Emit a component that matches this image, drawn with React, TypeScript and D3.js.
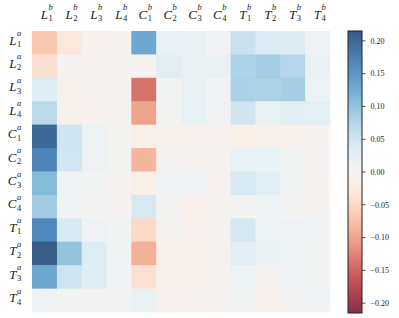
import React from "react";
import * as d3 from "d3";

const letters = ["L", "L", "L", "L", "C", "C", "C", "C", "T", "T", "T", "T"];
const indices = ["1", "2", "3", "4", "1", "2", "3", "4", "1", "2", "3", "4"];

// rows: a-labels (L1..T4), columns: b-labels (L1..T4)
const rowL1 = [-0.068, -0.03, -0.01, -0.003, 0.13, 0.02, 0.02, 0.01, 0.055, 0.038, 0.037, 0.012];
const rowL2 = [-0.04, 0.0, -0.005, 0.0, 0.0, 0.03, 0.02, 0.02, 0.08, 0.088, 0.075, 0.02];
const rowL3 = [0.035, -0.008, 0.0, 0.0, -0.14, 0.005, 0.02, 0.008, 0.082, 0.08, 0.086, 0.015];
const rowL4 = [0.07, -0.008, -0.01, -0.002, -0.1, 0.003, 0.022, 0.01, 0.05, 0.02, 0.03, 0.028];
const rowC1 = [0.2, 0.05, 0.015, 0.003, -0.015, -0.008, -0.008, -0.005, -0.013, -0.008, -0.007, -0.004];
const rowC2 = [0.17, 0.048, 0.012, 0.003, -0.085, 0.002, -0.006, 0.0, 0.022, 0.022, 0.004, 0.0];
const rowC3 = [0.11, 0.01, 0.005, 0.0, -0.015, 0.01, 0.012, -0.005, 0.04, 0.032, 0.004, -0.004];
const rowC4 = [0.09, 0.01, 0.003, 0.0, 0.04, 0.002, -0.012, 0.0, 0.004, 0.012, 0.003, -0.003];
const rowT1 = [0.165, 0.04, 0.013, 0.004, -0.05, 0.002, -0.01, -0.003, 0.045, 0.015, 0.012, 0.01];
const rowT2 = [0.21, 0.1, 0.035, 0.01, -0.09, -0.012, -0.014, -0.005, 0.03, 0.02, 0.012, 0.005];
const rowT3 = [0.13, 0.052, 0.035, 0.01, -0.04, -0.008, -0.013, -0.004, 0.014, 0.001, 0.012, 0.005];
const rowT4 = [0.012, 0.004, 0.003, 0.003, 0.02, -0.006, -0.005, -0.003, 0.005, -0.012, 0.001, 0.013];
const matrix = [rowL1, rowL2, rowL3, rowL4, rowC1, rowC2, rowC3, rowC4, rowT1, rowT2, rowT3, rowT4];

const colorTicks = [0.2, 0.15, 0.1, 0.05, 0, -0.05, -0.1, -0.15, -0.2];
const vmax = 0.215;

const W = 399;
const H = 318;
const plotLeft = 32;
const plotRight = 330;
const plotTop = 31;
const plotBottom = 312;
const cbLeft = 348;
const cbRight = 362;
const cbTop = 31;
const cbBottom = 313;

const serif = "'Liberation Serif', 'DejaVu Serif', serif";

function Label({ x, y, letter, sup, sub, anchorEnd }: any) {
  // x is the boundary between main letter and scripts
  return (
    <g fontFamily={serif} fontStyle="italic" fill="#222">
      <text x={x} y={y} fontSize={13} textAnchor="end">{letter}</text>
      <text x={x + 0.5} y={y - 8.5} fontSize={8.5}>{sup}</text>
      <text x={x + 0.5} y={y + 2.5} fontSize={8.5} fontStyle="normal">{sub}</text>
    </g>
  );
}

export default function App() {
  const idx = d3.range(12).map(String);
  const x = d3.scaleBand<string>().domain(idx).range([plotLeft, plotRight]);
  const y = d3.scaleBand<string>().domain(idx).range([plotTop, plotBottom]);
  const t = d3.scaleLinear().domain([-vmax, vmax]).range([0, 1]).clamp(true);
  const color = (v: number) => d3.interpolateRdBu(t(v));
  const cbY = d3.scaleLinear().domain([-vmax, vmax]).range([cbBottom, cbTop]);
  const stops = d3.range(0, 1.0001, 0.02);
  const fmt = (v: number) => (v < 0 ? "\u2212" : "") + Math.abs(v).toFixed(2);

  return (
    <svg width={W} height={H} style={{ position: "absolute", left: 0, top: 0, background: "#fff" }}>
      <defs>
        <linearGradient id="cb" x1="0" y1="1" x2="0" y2="0">
          {stops.map((s) => (
            <stop key={s} offset={s} stopColor={d3.interpolateRdBu(s)} />
          ))}
        </linearGradient>
      </defs>
      {matrix.map((row, r) =>
        row.map((v, c) => (
          <rect
            key={r + "-" + c}
            x={x(String(c))}
            y={y(String(r))}
            width={x.bandwidth() + 0.3}
            height={y.bandwidth() + 0.3}
            fill={color(v)}
            fillOpacity={0.8}
          />
        ))
      )}
      {letters.map((l, c) => (
        <Label key={"top" + c} x={(x(String(c)) as number) + x.bandwidth() / 2 + 3.5} y={18.5} letter={l} sup="b" sub={indices[c]} />
      ))}
      {letters.map((l, r) => (
        <Label key={"left" + r} x={16.5} y={(y(String(r)) as number) + y.bandwidth() / 2 + 1.8} letter={l} sup="a" sub={indices[r]} />
      ))}
      <rect x={cbLeft} y={cbTop} width={cbRight - cbLeft} height={cbBottom - cbTop} fill="url(#cb)" fillOpacity={0.8} />
      <rect x={cbLeft} y={cbTop} width={cbRight - cbLeft} height={cbBottom - cbTop} fill="none" stroke="#222" strokeWidth={1} />
      {colorTicks.map((v) => (
        <g key={v}>
          <line x1={cbRight} x2={cbRight + 3.5} y1={cbY(v)} y2={cbY(v)} stroke="#222" strokeWidth={0.8} />
          <text x={cbRight + 8.5} y={cbY(v) + 2.8} fontSize={8} fontFamily={serif} fill="#222">
            {fmt(v)}
          </text>
        </g>
      ))}
    </svg>
  );
}
